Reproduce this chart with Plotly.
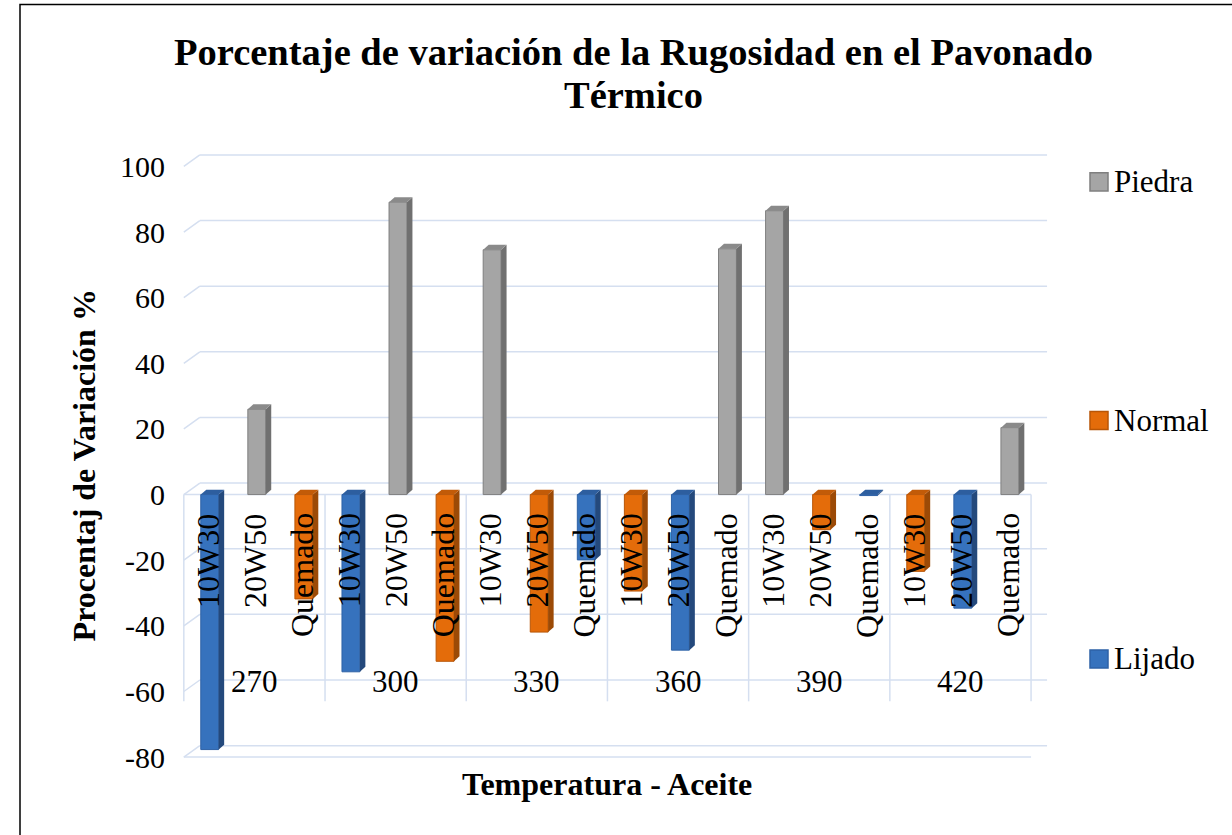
import plotly.graph_objects as go

# Categories: temperature groups, each with three oils
temperaturas = ["270", "300", "330", "360", "390", "420"]
aceites = ["10W30", "20W50", "Quemado"]

# Percentage of roughness variation, one slot per (temperature, oil); None = no bar for that series
lijado = [-77.7, None, None, -54.0, None, None, None, None, -19.9,
          None, -47.4, None, None, None, -0.3, None, -34.6, None]
normal = [None, None, -31.8, None, None, -50.8, None, -41.9, None,
          -29.4, None, None, None, -10.7, None, -23.4, None, None]
piedra = [None, 26.0, None, None, 89.1, None, 74.6, None, None,
          None, None, 74.9, 86.5, None, None, None, None, 20.4]

y_ticks = list(range(-80, 101, 20))
y_labels = [str(v) for v in y_ticks]

titulo = ["Porcentaje de variación de la Rugosidad en el Pavonado", "Térmico"]

FONT = "Liberation Serif"
W, H = 1232, 835


def py(px):
    """Vertical pixel offset from the top -> paper fraction."""
    return 1 - px / H


# series styling: front face, side face, top face, outline
series = [
    ("Lijado", lijado, "#3672bd", "#24497c", "#2d5e9f", "#2e62a6"),
    ("Normal", normal, "#e46c0a", "#9c4a06", "#c25b08", "#b85607"),
    ("Piedra", piedra, "#a5a5a5", "#707070", "#8a8a8a", "#7f7f7f"),
]

# pseudo-3D geometry (data units)
BAR_W = 0.38
BAR_SHIFT = 0.05
DEPTH_X = 0.117
DEPTH_Y = 1.5
WALL_DX = 0.34
WALL_DY = 3.5
GRID = "#d5dff0"

n = len(temperaturas) * len(aceites)
x_idx = list(range(n))

fig = go.Figure()
shapes = []

for name, vals, front, side, top, edge in series:
    fig.add_trace(go.Bar(
        x=x_idx, y=vals, name=name, width=BAR_W, offset=BAR_SHIFT - BAR_W / 2,
        marker=dict(color=front, line=dict(color=edge, width=1)),
        showlegend=False,
    ))
    for i, v in enumerate(vals):
        if v is None:
            continue
        x0 = i + BAR_SHIFT - BAR_W / 2
        x1 = i + BAR_SHIFT + BAR_W / 2
        hi = max(v, 0)
        side_path = (f"M{x1},0 L{x1 + DEPTH_X},{DEPTH_Y} "
                     f"L{x1 + DEPTH_X},{v + DEPTH_Y} L{x1},{v} Z")
        top_path = (f"M{x0},{hi} L{x0 + DEPTH_X},{hi + DEPTH_Y} "
                    f"L{x1 + DEPTH_X},{hi + DEPTH_Y} L{x1},{hi} Z")
        shapes.append(dict(type="path", path=side_path, xref="x", yref="y",
                           fillcolor=side, line=dict(width=0), layer="above"))
        shapes.append(dict(type="path", path=top_path, xref="x", yref="y",
                           fillcolor=top, line=dict(width=0), layer="above"))

# back wall gridlines with their side-wall diagonals
for v in y_ticks:
    shapes.append(dict(type="line", xref="x", yref="y",
                       x0=-0.5 + WALL_DX, x1=n - 0.5 + WALL_DX,
                       y0=v + WALL_DY, y1=v + WALL_DY,
                       line=dict(color=GRID, width=1.5), layer="below"))
    shapes.append(dict(type="line", xref="x", yref="y",
                       x0=-0.5, x1=-0.5 + WALL_DX, y0=v, y1=v + WALL_DY,
                       line=dict(color=GRID, width=1.5), layer="below"))

# front edges of the zero plane and the floor
for v in (0, y_ticks[0]):
    shapes.append(dict(type="line", xref="x", yref="y",
                       x0=-0.5, x1=n - 0.5, y0=v, y1=v,
                       line=dict(color=GRID, width=1.5), layer="below"))

# group separators of the two-level category axis
for k in range(len(temperaturas) + 1):
    xs = -0.5 + k * len(aceites)
    shapes.append(dict(type="line", xref="x", yref="y",
                       x0=xs, x1=xs, y0=0, y1=-63,
                       line=dict(color=GRID, width=1.5), layer="below"))

annotations = []
# oil labels (inner level)
for i in x_idx:
    annotations.append(dict(
        x=i, y=0, xref="x", yref="y", text=aceites[i % len(aceites)],
        textangle=-90, xanchor="center", yanchor="top", yshift=-17,
        showarrow=False, font=dict(family=FONT, size=32, color="black")))
# temperature labels (outer level)
for k, t in enumerate(temperaturas):
    annotations.append(dict(
        x=k * len(aceites) + 1, y=-57, xref="x", yref="y", text=t,
        xanchor="center", yanchor="middle", showarrow=False,
        font=dict(family=FONT, size=31, color="black")))

# chart title, two centred lines
for line_txt, yc in zip(titulo, (49.6, 93.6)):
    annotations.append(dict(
        x=633 / W, y=py(yc), xref="paper", yref="paper",
        text=f"<b>{line_txt}</b>", showarrow=False,
        xanchor="center", yanchor="middle",
        font=dict(family=FONT, size=38.5, color="black")))

# axis titles
annotations.append(dict(
    x=84 / W, y=py(472), xref="paper", yref="paper",
    text="<b>Procentaj de Variación %</b>", textangle=-90, showarrow=False,
    xanchor="center", yanchor="middle",
    font=dict(family=FONT, size=32, color="black")))
annotations.append(dict(
    x=607 / W, y=py(797), xref="paper", yref="paper",
    text="<b>Temperatura - Aceite</b>", showarrow=False,
    xanchor="center", yanchor="middle",
    font=dict(family=FONT, size=32, color="black")))

# legend, top to bottom
legend_rows = [(series[2], 182.6), (series[1], 426.1), (series[0], 669.6)]
for (name, _, front, _, _, edge), yc in legend_rows:
    shapes.append(dict(type="rect", xref="paper", yref="paper",
                       x0=1090 / W, x1=1108 / W,
                       y0=py(yc + 9.2), y1=py(yc - 9.2),
                       fillcolor=front, line=dict(color=edge, width=1.5)))
    annotations.append(dict(
        x=1112 / W, y=py(yc), xref="paper", yref="paper", text=name,
        xanchor="left", yanchor="middle", showarrow=False,
        font=dict(family=FONT, size=31, color="black")))

# chart frame
shapes.append(dict(type="rect", xref="paper", yref="paper",
                   x0=20 / W, x1=1.05, y0=-0.05, y1=py(1.5),
                   line=dict(color="black", width=1.5), fillcolor="rgba(0,0,0,0)"))

fig.update_layout(
    width=W, height=H,
    margin=dict(l=0, r=0, t=0, b=0),
    paper_bgcolor="white", plot_bgcolor="white",
    barmode="overlay",
    xaxis=dict(range=[-0.56, 17.86], domain=[181 / W, 1048 / W],
               showgrid=False, zeroline=False, showticklabels=False,
               showline=False, ticks=""),
    yaxis=dict(range=[-80.6, 104], domain=[py(771.8), py(153.4)],
               tickvals=y_ticks, ticktext=y_labels,
               showgrid=False, zeroline=False,
               showline=False, ticks="outside", ticklen=9,
               tickcolor="rgba(0,0,0,0)",
               tickfont=dict(family=FONT, size=30, color="black")),
    shapes=shapes,
    annotations=annotations,
)

fig.write_html("out.html", config={"responsive": False})
